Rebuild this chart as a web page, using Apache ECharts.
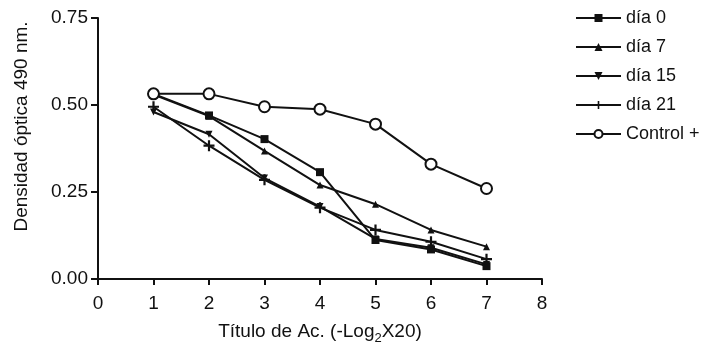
<!DOCTYPE html>
<html>
<head>
<meta charset="utf-8">
<script src="https://cdn.jsdelivr.net/npm/echarts@6/dist/echarts.min.js"></script>
<style>
  html, body { margin: 0; padding: 0; background: #fff; }
  #chart { width: 713px; height: 345px; }
</style>
</head>
<body>
<div id="chart"></div>
<script>
const titers = [1, 2, 3, 4, 5, 6, 7];
const dia0 = [0.532, 0.47, 0.402, 0.307, 0.112, 0.085, 0.037];
const dia7 = [0.53, 0.468, 0.368, 0.27, 0.215, 0.141, 0.093];
const dia15 = [0.48, 0.416, 0.29, 0.208, 0.115, 0.09, 0.042];
const dia21 = [0.495, 0.383, 0.285, 0.205, 0.141, 0.107, 0.057];
const controlPos = [0.532, 0.532, 0.495, 0.488, 0.445, 0.33, 0.26];
const seriesNames = ['día 0', 'día 7', 'día 15', 'día 21', 'Control +'];

const ink = '#111';
const font = 'Liberation Sans, Arial, sans-serif';
const plusPath = 'path://M4,0 L6,0 L6,4 L10,4 L10,6 L6,6 L6,10 L4,10 L4,6 L0,6 L0,4 L4,4 Z';

const pair = (values) => titers.map((t, i) => [t, values[i]]);

function line(name, values, symbol, size, extra) {
  return Object.assign({
    name,
    type: 'line',
    data: pair(values),
    symbol,
    symbolSize: size,
    showAllSymbol: true,
    lineStyle: { color: ink, width: 2 },
    itemStyle: { color: ink, borderColor: ink, borderWidth: 0 },
    emphasis: { disabled: true },
    z: 3
  }, extra || {});
}

const chart = echarts.init(document.getElementById('chart'), null, { renderer: 'canvas' });
chart.setOption({
  backgroundColor: '#fff',
  animation: false,
  textStyle: { fontFamily: font, color: ink },
  grid: { left: 98, right: 171, top: 18, bottom: 66, containLabel: false, outerBoundsMode: 'none' },
  legend: {
    orient: 'vertical',
    left: 570,
    top: 4,
    itemWidth: 45,
    itemHeight: 10,
    itemGap: 11,
    data: seriesNames,
    textStyle: { fontFamily: font, fontSize: 18, color: ink }
  },
  xAxis: {
    type: 'value',
    min: 0,
    max: 8,
    interval: 1,
    name: '{n|Título de Ac. (-Log}{s|2}{n|X20)}',
    nameLocation: 'middle',
    nameGap: 40,
    nameTextStyle: {
      rich: {
        n: { fontFamily: font, fontSize: 19, color: ink, lineHeight: 26 },
        s: { fontFamily: font, fontSize: 13, color: ink, lineHeight: 16, verticalAlign: 'bottom' }
      }
    },
    axisLine: { lineStyle: { color: ink, width: 2 } },
    axisTick: { length: 6, lineStyle: { color: ink, width: 2 } },
    axisLabel: { color: ink, fontSize: 19, fontFamily: font, margin: 15 },
    splitLine: { show: false }
  },
  yAxis: {
    type: 'value',
    min: 0,
    max: 0.75,
    interval: 0.25,
    name: 'Densidad óptica 490 nm.',
    nameLocation: 'middle',
    nameGap: 67,
    nameTextStyle: { fontFamily: font, fontSize: 19, color: ink, padding: [0, 0, 0, 44] },
    axisLine: { show: true, lineStyle: { color: ink, width: 2 } },
    axisTick: { show: true, length: 7, lineStyle: { color: ink, width: 2 } },
    axisLabel: { color: ink, fontSize: 19, fontFamily: font, margin: 10, formatter: (v) => v.toFixed(2) },
    splitLine: { show: false }
  },
  series: [
    line(seriesNames[0], dia0, 'rect', 8),
    line(seriesNames[1], dia7, 'triangle', 7),
    line(seriesNames[2], dia15, 'triangle', 7, { symbolRotate: 180 }),
    line(seriesNames[3], dia21, plusPath, 11),
    line(seriesNames[4], controlPos, 'circle', 11, {
      itemStyle: { color: '#fff', borderColor: ink, borderWidth: 2 },
      z: 4
    })
  ]
});
</script>
</body>
</html>
